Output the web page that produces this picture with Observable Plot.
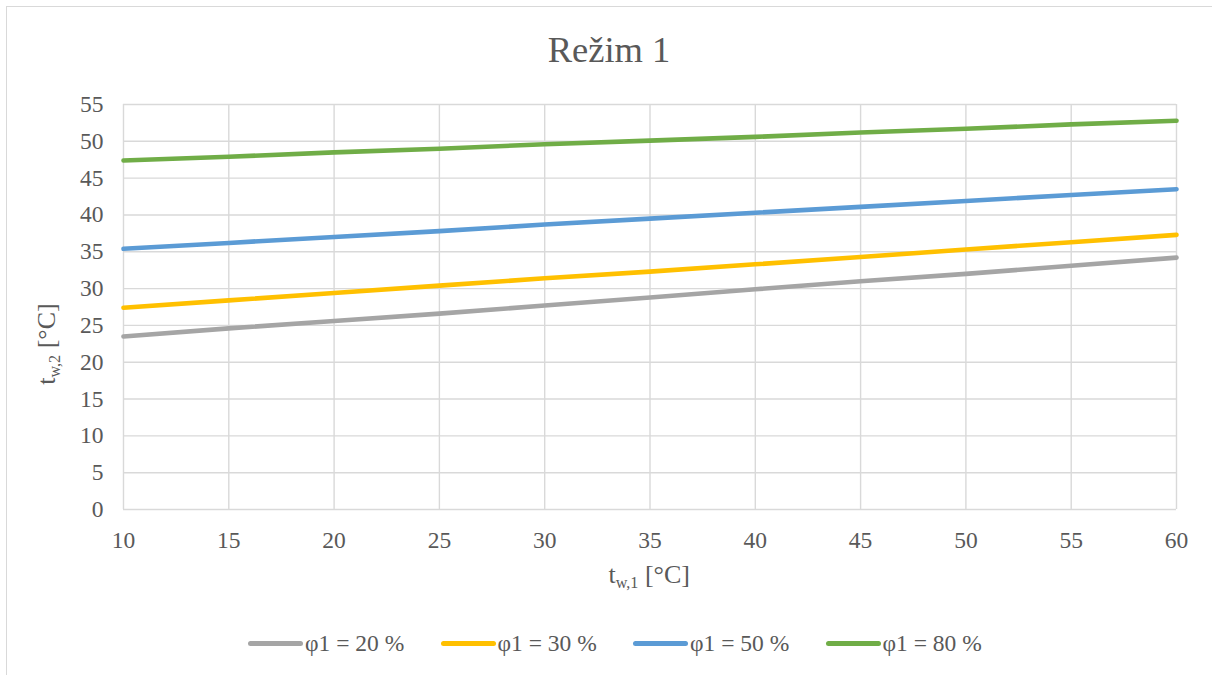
<!DOCTYPE html>
<html>
<head>
<meta charset="utf-8">
<script src="https://cdn.jsdelivr.net/npm/d3@7"></script>
<script src="https://cdn.jsdelivr.net/npm/@observablehq/plot@0.6"></script>
<style>
  html, body { margin: 0; padding: 0; background: #fff; }
  body { font-family: "Liberation Serif", "Times New Roman", serif; color: #595959; overflow: hidden; }
  #wrap { position: relative; width: 1212px; height: 675px; overflow: hidden; }
  #title { height: 90px; box-sizing: border-box; padding-top: 32px; padding-left: 6px; text-align: center; font-size: 36.5px; line-height: 36.5px; }
  #chart { height: 490px; }
  #chart svg, #chart svg text { font-family: "Liberation Serif", "Times New Roman", serif !important; }
  #legendBox { position: relative; height: 95px; }
  #legend { position: absolute; left: 248px; top: 52px; display: flex; align-items: center; font-family: "Liberation Serif", serif; font-size: 23.5px; line-height: 23.5px; white-space: nowrap; }
  .item { display: inline-flex; align-items: center; width: 192.5px; }
  .sw { display: inline-block; width: 55px; height: 5px; border-radius: 2.5px; margin-right: 2px; }
  .axt { position: absolute; font-family: "Liberation Serif", serif; font-size: 26px; line-height: 26px; white-space: nowrap; }
  .axt sub { font-size: 0.62em; line-height: 0; vertical-align: -0.32em; }
  #frame { position: absolute; left: 6px; top: 6px; width: 1400px; height: 900px; border-left: 1.5px solid #d9d9d9; border-top: 1.5px solid #d9d9d9; pointer-events: none; z-index: 5; }
</style>
</head>
<body>
<div id="wrap">
  <div id="title">Režim 1</div>
  <div id="chart"></div>
  <div id="legendBox"><div id="legend"></div></div>
  <div class="axt" id="xt">t<sub>w,1</sub> [°C]</div>
  <div class="axt" id="yt">t<sub>w,2</sub> [°C]</div>
  <div id="frame"></div>
</div>
<script>
// Data
const xValues = [10, 15, 20, 25, 30, 35, 40, 45, 50, 55, 60];
const seriesNames = ["φ1 = 20 %", "φ1 = 30 %", "φ1 = 50 %", "φ1 = 80 %"];
const phi20 = [23.5, 24.6, 25.6, 26.6, 27.7, 28.8, 29.9, 31.0, 32.0, 33.1, 34.2];
const phi30 = [27.4, 28.4, 29.4, 30.4, 31.4, 32.3, 33.3, 34.3, 35.3, 36.3, 37.3];
const phi50 = [35.4, 36.2, 37.0, 37.8, 38.7, 39.5, 40.3, 41.1, 41.9, 42.7, 43.5];
const phi80 = [47.4, 47.9, 48.5, 49.0, 49.6, 50.1, 50.6, 51.2, 51.7, 52.3, 52.8];
const xTicks = [10, 15, 20, 25, 30, 35, 40, 45, 50, 55, 60];
const yTicks = [0, 5, 10, 15, 20, 25, 30, 35, 40, 45, 50, 55];
const seriesColors = ["#A5A5A5", "#FFC000", "#5B9BD5", "#70AD47"];

const allValues = [phi20, phi30, phi50, phi80];
const data = seriesNames.flatMap((s, i) => xValues.map((x, j) => ({x, y: allValues[i][j], s})));
const serif = "Liberation Serif, Times New Roman, serif";

const chart = Plot.plot({
  width: 1212,
  height: 490,
  marginTop: 14,
  marginBottom: 71,
  marginLeft: 123,
  marginRight: 36,
  style: {fontFamily: serif, fontSize: "23.5px", color: "#595959", background: "transparent", overflow: "visible"},
  x: {domain: [10, 60], label: null},
  y: {domain: [0, 55], label: null},
  color: {domain: seriesNames, range: seriesColors},
  marks: [
    Plot.gridX(xTicks, {stroke: "#d9d9d9", strokeOpacity: 1, strokeWidth: 1.4}),
    Plot.gridY(yTicks, {stroke: "#d9d9d9", strokeOpacity: 1, strokeWidth: 1.4}),
    Plot.axisX(xTicks, {tickSize: 0, tickPadding: 22, label: null, fill: "#595959", fontFamily: serif, fontSize: 23.5}),
    Plot.axisY(yTicks, {tickSize: 0, tickPadding: 20, label: null, fill: "#595959", fontFamily: serif, fontSize: 23.5}),
    Plot.line(data, {x: "x", y: "y", z: "s", stroke: "s", strokeWidth: 4.6, strokeLinecap: "round", strokeLinejoin: "round"})
  ]
});
document.getElementById("chart").appendChild(chart);

// Legend
const legend = document.getElementById("legend");
seriesNames.forEach((name, i) => {
  const item = document.createElement("span");
  item.className = "item";
  const sw = document.createElement("span");
  sw.className = "sw";
  sw.style.background = seriesColors[i];
  const label = document.createElement("span");
  label.textContent = name;
  item.appendChild(sw);
  item.appendChild(label);
  legend.appendChild(item);
});

// Axis titles placement
const xt = document.getElementById("xt");
xt.style.left = (649 - xt.offsetWidth / 2) + "px";
xt.style.top = "562px";
const yt = document.getElementById("yt");
yt.style.left = (46 - yt.offsetWidth / 2) + "px";
yt.style.top = (344 - yt.offsetHeight / 2) + "px";
yt.style.transform = "rotate(-90deg)";
</script>
</body>
</html>
